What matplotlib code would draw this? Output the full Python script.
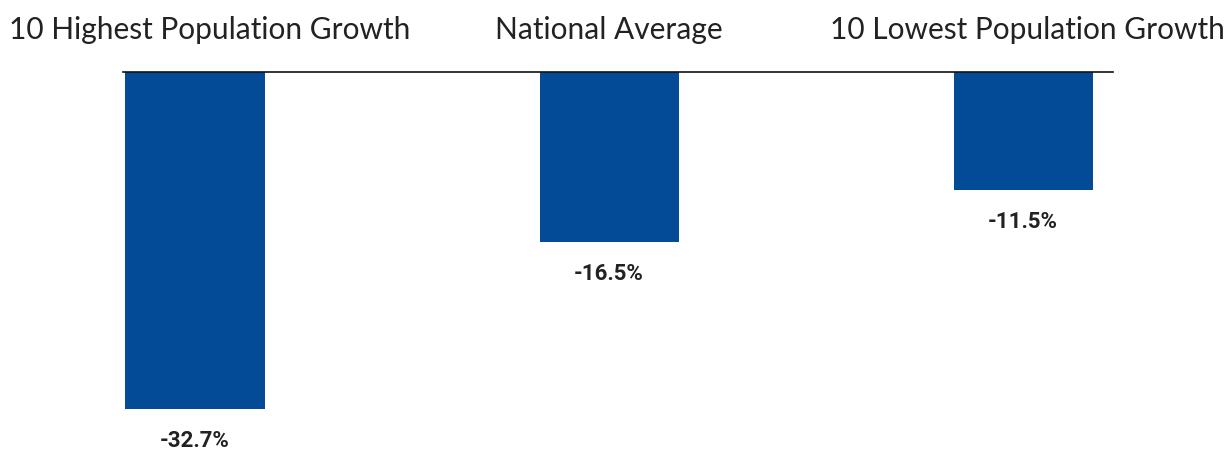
import matplotlib
matplotlib.use("Agg")
import matplotlib.pyplot as plt
import matplotlib.transforms as mtransforms

# Chart data
categories = ["10 Highest Population Growth", "National Average", "10 Lowest Population Growth"]
values = [-32.7, -16.5, -11.5]
labels = ["-32.7%", "-16.5%", "-11.5%"]

bar_color = "#034a97"

fig = plt.figure(figsize=(12.29, 4.53), dpi=100)
ax = fig.add_axes([123 / 1229, 0, (1113 - 123) / 1229, 381 / 453])

x = list(range(len(categories)))
ax.bar(x, values, width=0.336, color=bar_color, zorder=2)

ax.set_xlim(-0.174, 2.217)
ax.set_ylim(-37.0, 0)

# only the zero line on top is shown
for side in ["left", "right", "bottom"]:
    ax.spines[side].set_visible(False)
ax.spines["top"].set_linewidth(1.2)
ax.spines["top"].set_color("#111111")
ax.set_xticks([])
ax.set_yticks([])

# category titles above the zero line
trans = mtransforms.blended_transform_factory(ax.transData, ax.transAxes)
title_offsets = [0.035, 0.0, 0.01]
for xi, name, off in zip(x, categories, title_offsets):
    ax.text(xi + off, 1.0 + 42 / 381, name, transform=trans, ha="center", va="center",
            fontsize=21.5, family="Lato", color="#222222")

# value labels under each bar
for xi, v, lab in zip(x, values, labels):
    ax.annotate(lab, (xi, v), xytext=(0, -23), textcoords="offset points",
                ha="center", va="center", fontsize=16, fontweight="bold",
                family="Roboto", color="#222222")

fig.savefig("out.png", dpi=100)
